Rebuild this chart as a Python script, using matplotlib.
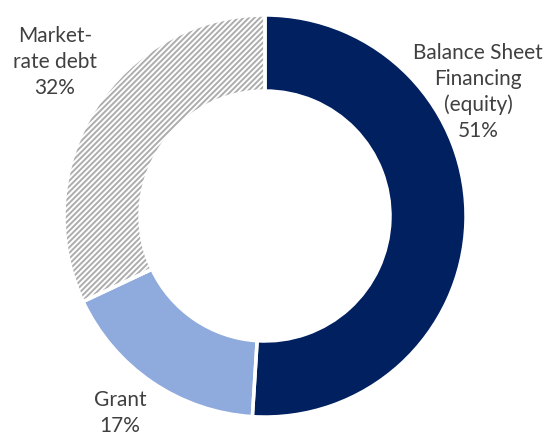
import matplotlib.pyplot as plt

labels = ['Balance Sheet\nFinancing\n(equity)', 'Grant', 'Market-\nrate debt']
shares = [51, 17, 32]
colors = ['#002060', '#8FAADC', 'white']
hatches = ['', '', '//////']

plt.rcParams['hatch.linewidth'] = 1.4

fig = plt.figure(figsize=(5.57, 4.37), dpi=100)
ax = fig.add_axes([0, 0, 1, 1])

pie_kw = dict(startangle=90, counterclock=False, center=(265, 221), radius=201, frame=True)

# first pass: fills + hatch (hatch takes the edge colour)
wedges, _ = ax.pie(shares, colors=colors, wedgeprops=dict(width=76, linewidth=0), **pie_kw)
for w, h in zip(wedges, hatches):
    if h:
        w.set_hatch(h)
        w.set_edgecolor('#ADADAD')

# second pass: white separators
ax.pie(shares, colors=['none'] * 3,
       wedgeprops=dict(width=76, edgecolor='white', linewidth=2.5), **pie_kw)

ax.set_xlim(0, 557)
ax.set_ylim(0, 437)
ax.set_aspect('equal')
ax.axis('off')

# label positions (data coords, in pixels from bottom-left)
label_xy = [(478, 345), (120, 24), (55, 375)]
for lab, val, (x, y) in zip(labels, shares, label_xy):
    ax.text(x, y, f'{lab}\n{val}%', ha='center', va='center',
            fontsize=15, color='#404040', family='Lato', linespacing=1.35)

fig.savefig('out.png', dpi=100)
